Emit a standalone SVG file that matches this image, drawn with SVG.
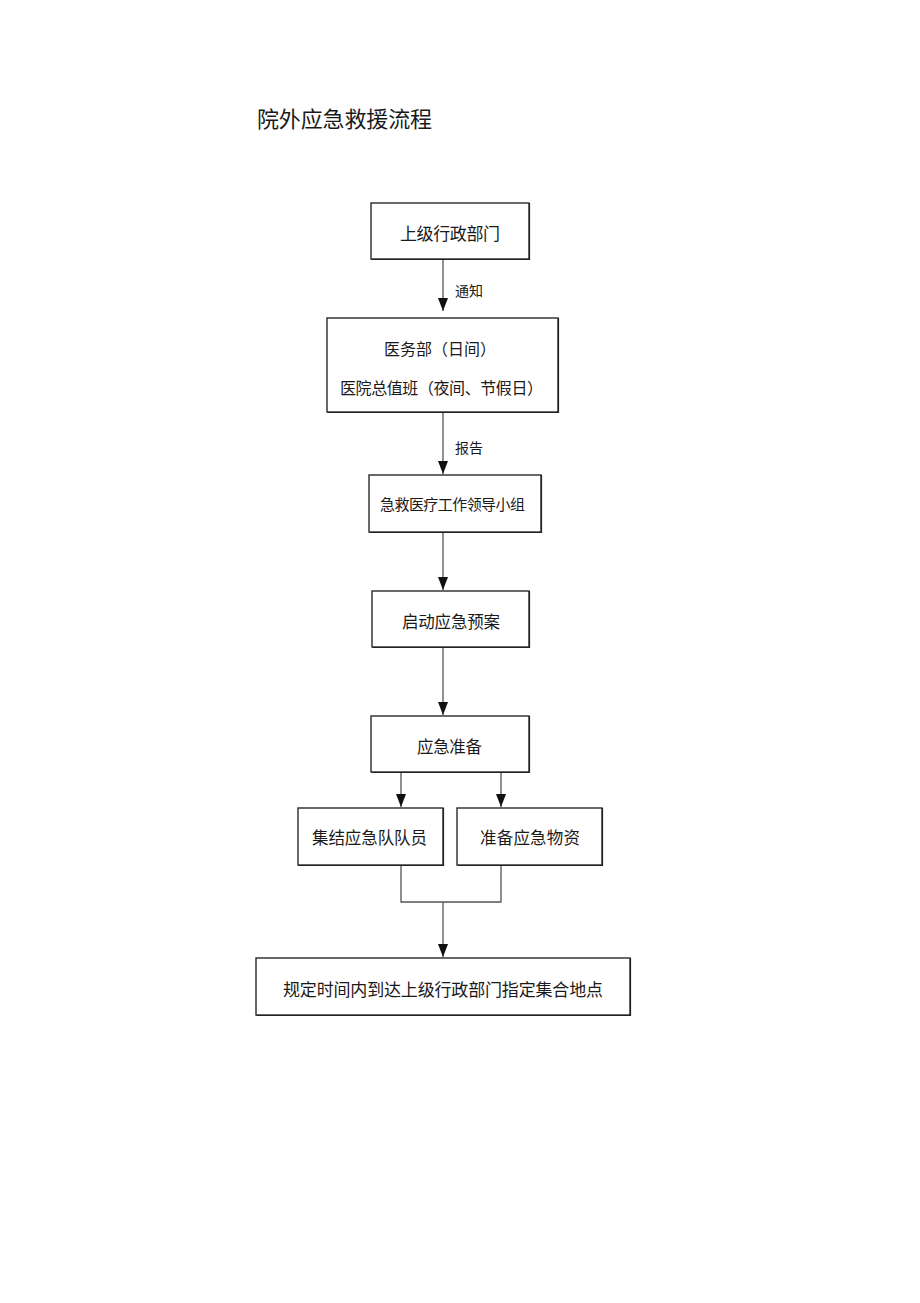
<svg xmlns="http://www.w3.org/2000/svg" width="920" height="1303" viewBox="0 0 920 1303">
<style>
.box{fill:#fff;stroke:#2a2a2a;stroke-width:1.4}
.sh{fill:none;stroke:#222;stroke-width:1.2}
.t{font-family:"Noto Sans CJK SC","Noto Sans",sans-serif;fill:#1a1a1a;text-anchor:middle;dominant-baseline:central}
.ln{fill:none;stroke:#555;stroke-width:1.3}
</style>
<defs>
<marker id="ah" viewBox="0 0 13 10" refX="13" refY="5" markerWidth="13" markerHeight="10" markerUnits="userSpaceOnUse" orient="auto">
<path d="M0,0 L13,5 L0,10 Z" fill="#111"/>
</marker>
</defs>
<rect width="920" height="1303" fill="#fff"/>
<text class="t" x="344.5" y="117" font-size="22" textLength="175" lengthAdjust="spacing" fill="#222">院外应急救援流程</text>

<g id="connectors">
<path class="ln" d="M443,259 V311" marker-end="url(#ah)"/>
<path class="ln" d="M443,412 V474" marker-end="url(#ah)"/>
<path class="ln" d="M443,532 V590" marker-end="url(#ah)"/>
<path class="ln" d="M443,647 V715" marker-end="url(#ah)"/>
<path class="ln" d="M401,772 V807" marker-end="url(#ah)"/>
<path class="ln" d="M501,772 V807" marker-end="url(#ah)"/>
<path class="ln" d="M401,865 V902 H501 V865"/>
<path class="ln" d="M443,902 V957" marker-end="url(#ah)"/>
<text class="t" x="469" y="290" font-size="14">通知</text>
<text class="t" x="469" y="447" font-size="14">报告</text>
</g>

<g id="n1">
<rect class="box" x="371" y="203" width="158" height="56"/>
<path class="sh" d="M371.5,259.5 H529.5 V203"/>
<text class="t" x="450" y="232" font-size="17" textLength="100" lengthAdjust="spacing">上级行政部门</text>
</g>
<g id="n2">
<rect class="box" x="327" y="318" width="231" height="94"/>
<path class="sh" d="M327.5,412.5 H558.5 V318"/>
<text class="t" x="440" y="348" font-size="16" textLength="112" lengthAdjust="spacing">医务部（日间）</text>
<text class="t" x="441.5" y="387" font-size="16" textLength="203" lengthAdjust="spacing">医院总值班（夜间、节假日）</text>
</g>
<g id="n3">
<rect class="box" x="369" y="475" width="172" height="57"/>
<path class="sh" d="M369.5,532.5 H541.5 V475"/>
<text class="t" x="452.5" y="503" font-size="15" textLength="145" lengthAdjust="spacing">急救医疗工作领导小组</text>
</g>
<g id="n4">
<rect class="box" x="372" y="591" width="157" height="56"/>
<path class="sh" d="M372.5,647.5 H529.5 V591"/>
<text class="t" x="451" y="621" font-size="16.5" textLength="98" lengthAdjust="spacing">启动应急预案</text>
</g>
<g id="n5">
<rect class="box" x="371" y="716" width="158" height="56"/>
<path class="sh" d="M371.5,772.5 H529.5 V716"/>
<text class="t" x="449.5" y="746" font-size="16.5" textLength="65" lengthAdjust="spacing">应急准备</text>
</g>
<g id="n6">
<rect class="box" x="298" y="808" width="145" height="57"/>
<path class="sh" d="M298.5,865.5 H443.5 V808"/>
<text class="t" x="369.5" y="837" font-size="16.5" textLength="115" lengthAdjust="spacing">集结应急队队员</text>
</g>
<g id="n7">
<rect class="box" x="457" y="808" width="145" height="57"/>
<path class="sh" d="M457.5,865.5 H602.5 V808"/>
<text class="t" x="530" y="837" font-size="16.5" textLength="100" lengthAdjust="spacing">准备应急物资</text>
</g>
<g id="n8">
<rect class="box" x="256" y="958" width="374" height="57"/>
<path class="sh" d="M256.5,1015.5 H630.5 V958"/>
<text class="t" x="443" y="988" font-size="17" textLength="320" lengthAdjust="spacing">规定时间内到达上级行政部门指定集合地点</text>
</g>
</svg>
